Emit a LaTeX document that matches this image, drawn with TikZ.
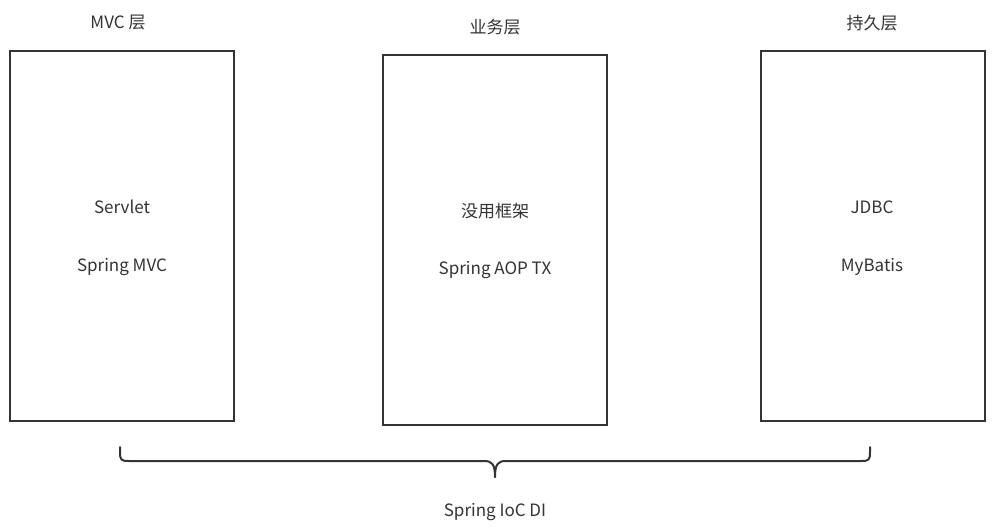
\documentclass[tikz,border=0pt]{standalone}
\usepackage{fontspec}
\setmainfont{Noto Sans CJK SC}
\begin{document}
\begin{tikzpicture}[x=1pt,y=-1pt,
  layer/.style={draw=black!80,line width=2pt,minimum width=224pt,minimum height=370pt,inner sep=0pt},
  lbl/.style={text=black!80,font=\fontsize{17}{20}\selectfont,inner sep=0pt},
  bracestyle/.style={draw=black!80,line width=2pt,line cap=round,line join=round}]
\useasboundingbox (0,0) rectangle (994,531);
\node[layer] (mvc) at (122,236) {};
\node[layer] (biz) at (495,240) {};
\node[layer] (per) at (873,236) {};
\node[lbl] (t1) at (118,23) {MVC 层};
\node[lbl] (t2) at (495,27) {业务层};
\node[lbl] (t3) at (872,23) {持久层};
\node[lbl] (a1) at (122,207) {Servlet};
\node[lbl] (a2) at (122,267) {Spring MVC};
\node[lbl] (b1) at (495,211) {没用框架};
\node[lbl] (b2) at (495,270) {Spring AOP TX};
\node[lbl] (c1) at (872,207) {JDBC};
\node[lbl] (c2) at (872,267) {MyBatis};
\coordinate (bl) at (120,447);
\coordinate (br) at (870,447);
\coordinate (bm) at (495,477);
\draw[bracestyle] (bl) -- ++(0,5) .. controls +(0,8) and +(-8,0) .. ++(9,9) -- (484,461) .. controls (492,461) and (495,464) .. (bm);
\draw[bracestyle] (br) -- ++(0,5) .. controls +(0,8) and +(8,0) .. ++(-9,9) -- (506,461) .. controls (498,461) and (495,464) .. (bm);
\node[lbl] (ioc) at (495,512) {Spring IoC DI};
\end{tikzpicture}
\end{document}
